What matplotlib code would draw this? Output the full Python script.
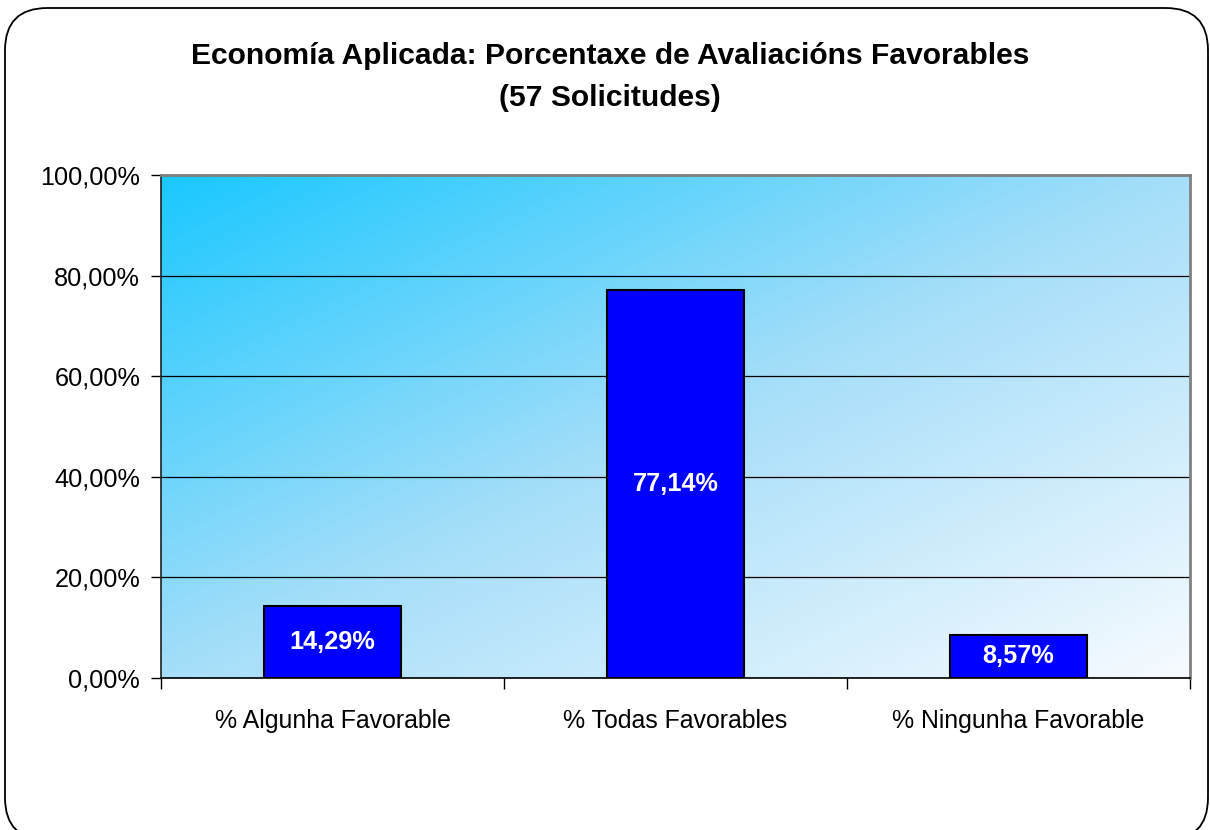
import numpy as np
import matplotlib.pyplot as plt
from matplotlib.patches import FancyBboxPatch
from matplotlib.colors import LinearSegmentedColormap

plt.rcParams['font.family'] = ['Liberation Sans', 'DejaVu Sans']

categories = ['% Algunha Favorable', '% Todas Favorables', '% Ningunha Favorable']
values = [14.29, 77.14, 8.57]
bar_labels = ['14,29%', '77,14%', '8,57%']
yticks = [0, 20, 40, 60, 80, 100]
ytick_labels = ['0,00%', '20,00%', '40,00%', '60,00%', '80,00%', '100,00%']
title_lines = ['Economía Aplicada: Porcentaxe de Avaliacións Favorables',
               '(57 Solicitudes)']

fig = plt.figure(figsize=(12.1, 8.3), dpi=100)

# rounded chart frame
frame = FancyBboxPatch((5 / 1210, -10 / 830), 1203 / 1210, 832 / 830,
                       boxstyle='round,pad=0,rounding_size=0.035',
                       transform=fig.transFigure, facecolor='none',
                       edgecolor='black', linewidth=1.3,
                       mutation_aspect=1210 / 830, zorder=-1)
fig.patches.append(frame)

ax = fig.add_axes([161 / 1210, 1 - 678 / 830, 1029 / 1210, 503 / 830])
ax.set_zorder(2)

# diagonal gradient background, dark at top-left
cmap = LinearSegmentedColormap.from_list(
    'bg', [(0, '#1ac8ff'), (0.5, '#a5def9'), (1, '#f7fbff')])
xx, yy = np.meshgrid(np.linspace(0, 1, 300), np.linspace(0, 1, 200))
grad = (xx + yy) / 2
ax.imshow(grad, cmap=cmap, extent=(-0.5, 2.5, 0, 100), origin='upper',
          aspect='auto', zorder=0, interpolation='bilinear')
ax.set_xlim(-0.5, 2.5)
ax.set_ylim(0, 100)

x = np.arange(len(categories))
ax.bar(x, values, width=0.4, color='#0000ff', edgecolor='black',
       linewidth=1.5, zorder=3)
for xi, v, lab in zip(x, values, bar_labels):
    ax.text(xi, v / 2, lab, ha='center', va='center', color='white',
            fontsize=18.2, fontweight='bold', zorder=4)

ax.set_yticks(yticks)
ax.set_yticklabels(ytick_labels, fontsize=18.2)
ax.yaxis.grid(True, color='black', linewidth=0.9)
for gl in ax.get_ygridlines():
    gl.set_zorder(1)

ax.set_xticks([-0.5, 0.5, 1.5, 2.5])
ax.set_xticklabels([])
ax.set_xticks(x, minor=True)
ax.set_xticklabels(categories, minor=True, fontsize=17.9)
ax.tick_params(axis='x', which='minor', length=0, pad=22)
ax.tick_params(axis='x', which='major', length=8, width=1, direction='out')
ax.tick_params(axis='y', length=7, width=1, direction='out', pad=8)

ax.spines['top'].set_color('#808080')
ax.spines['right'].set_color('#808080')
ax.spines['top'].set_linewidth(2)
ax.spines['right'].set_linewidth(2)
ax.spines['left'].set_color('#202020')
ax.spines['bottom'].set_color('black')
ax.spines['left'].set_linewidth(1.2)
ax.spines['bottom'].set_linewidth(1.2)

fig.text(0.504, 1 - 56 / 830, title_lines[0], ha='center', va='center',
         fontsize=21.6, fontweight='bold')
fig.text(0.504, 1 - 98 / 830, title_lines[1], ha='center', va='center',
         fontsize=21.6, fontweight='bold')

fig.savefig('out.png', dpi=100)
